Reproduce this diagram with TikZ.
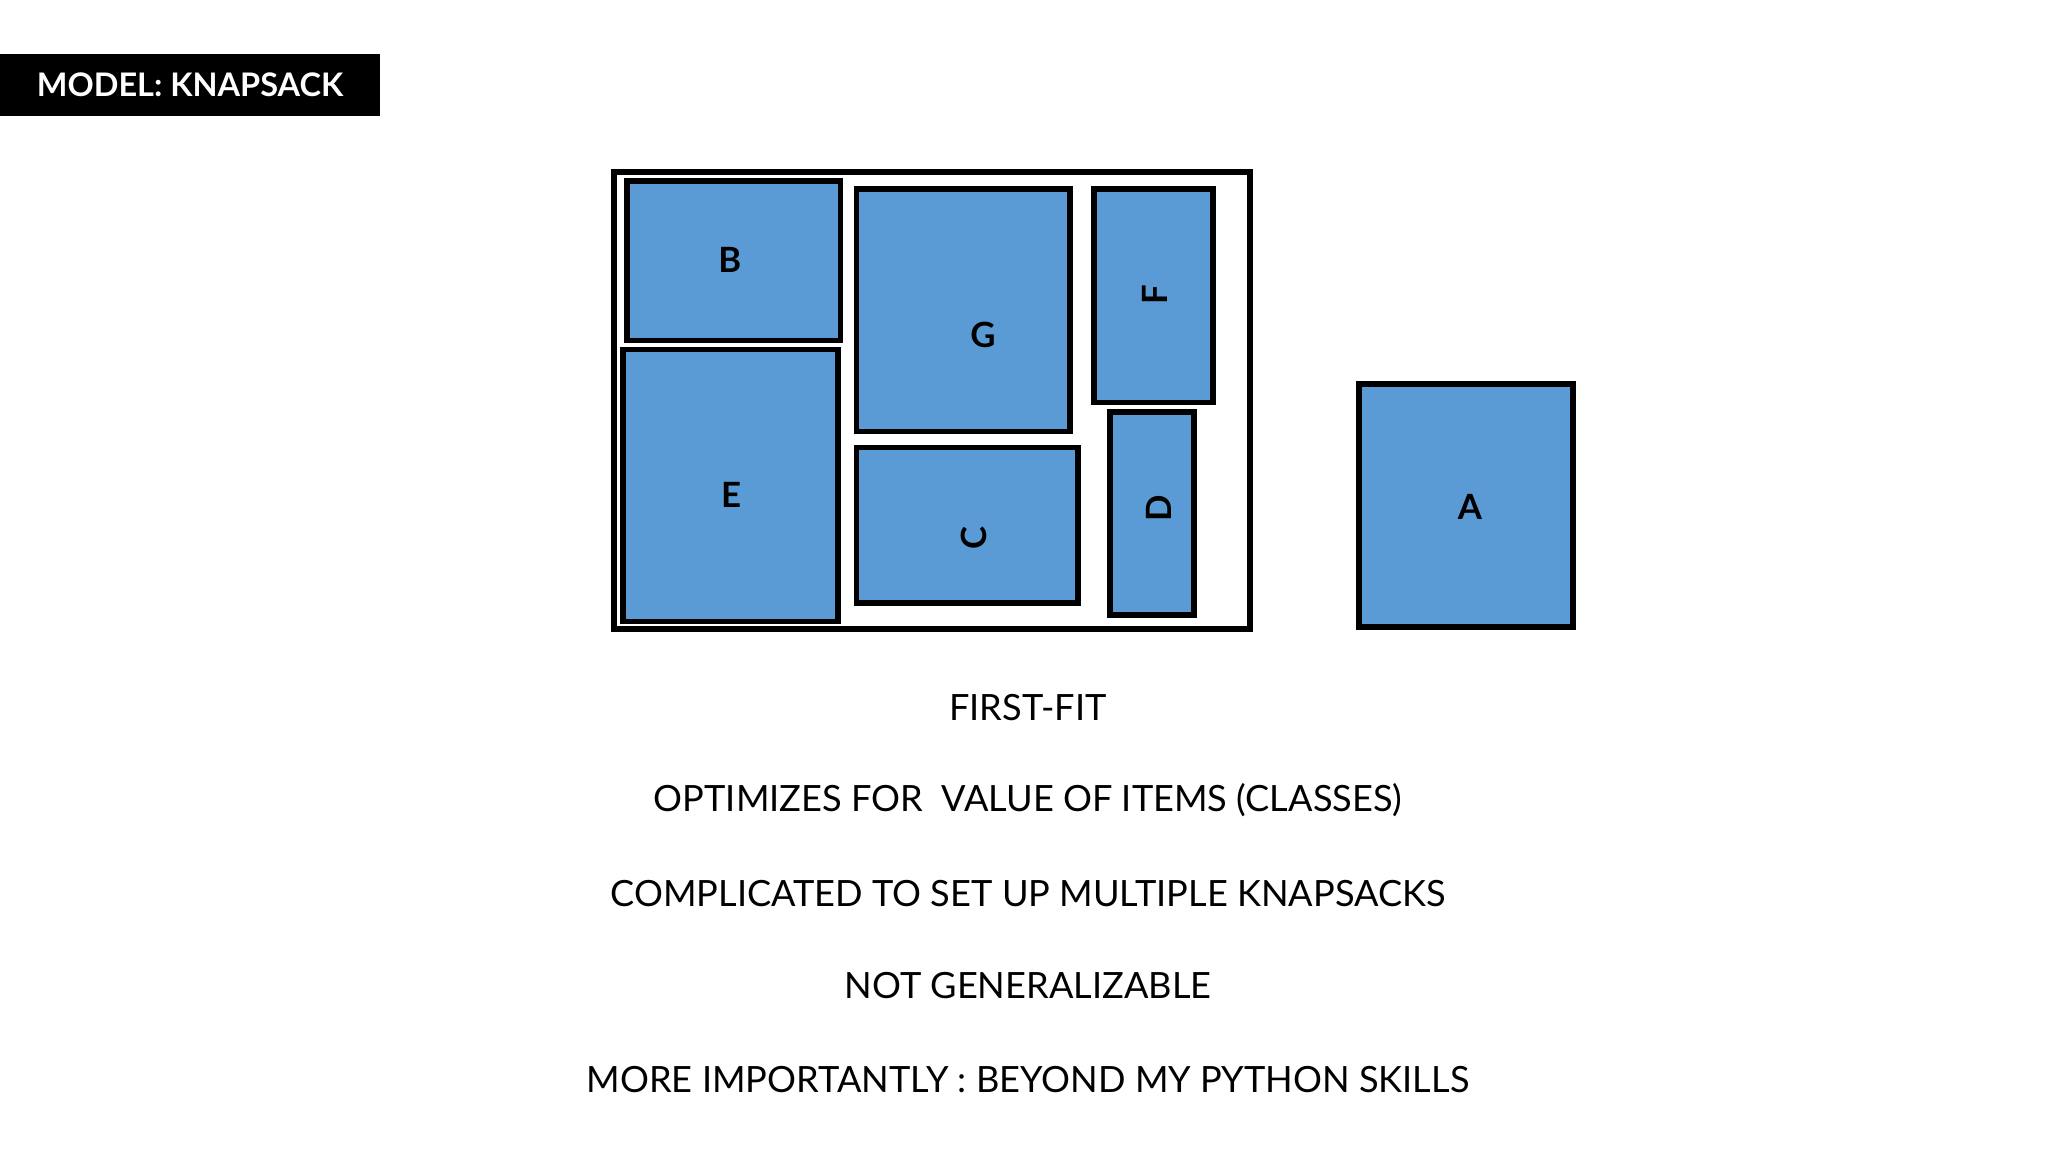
\documentclass[tikz,border=0pt]{standalone}
\usepackage{fontspec}
\setmainfont{Lato}
\definecolor{boxblue}{HTML}{5B9BD5}
\begin{document}
\begin{tikzpicture}[x=0.1mm,y=-0.1mm,
  item/.style={draw=black,line width=1.2pt,fill=boxblue},
  lbl/.style={font=\bfseries\fontsize{7.5pt}{9pt}\selectfont},
  line/.style={font=\fontsize{7.8pt}{9pt}\selectfont}]
\useasboundingbox (0,0) rectangle (1552,873);
\fill[black] (0,41) rectangle (288,88);
\node[text=white,font=\bfseries\fontsize{7pt}{8pt}\selectfont] (title) at (144,64.5) {MODEL: KNAPSACK};
\draw[line width=1.3pt] (465,130) rectangle (947,477);
\draw[item] (475,137) rectangle (637,258);
\draw[item] (472,265) rectangle (635,471);
\draw[item] (649,143) rectangle (811,327);
\draw[item] (649,339) rectangle (817,457);
\draw[item] (829,143) rectangle (919,305);
\draw[item] (841,312) rectangle (905,466);
\draw[item] (1030,291) rectangle (1192,475);
\node[lbl] (b) at (553,197) {B};
\node[lbl] (e) at (554,375) {E};
\node[lbl] (g) at (745,254) {G};
\node[lbl,rotate=90] (c) at (738,408) {C};
\node[lbl,rotate=90] (f) at (875,223) {F};
\node[lbl,rotate=90] (d) at (878,385) {D};
\node[lbl] (a) at (1114,384) {A};
\node[line] (t1) at (779,536) {FIRST-FIT};
\node[line] (t2) at (779,606) {OPTIMIZES FOR\ \ VALUE OF ITEMS (CLASSES)};
\node[line] (t3) at (779,677) {COMPLICATED TO SET UP MULTIPLE KNAPSACKS};
\node[line] (t4) at (779,747) {NOT GENERALIZABLE};
\node[line] (t5) at (779,818) {MORE IMPORTANTLY : BEYOND MY PYTHON SKILLS};
\end{tikzpicture}
\end{document}
